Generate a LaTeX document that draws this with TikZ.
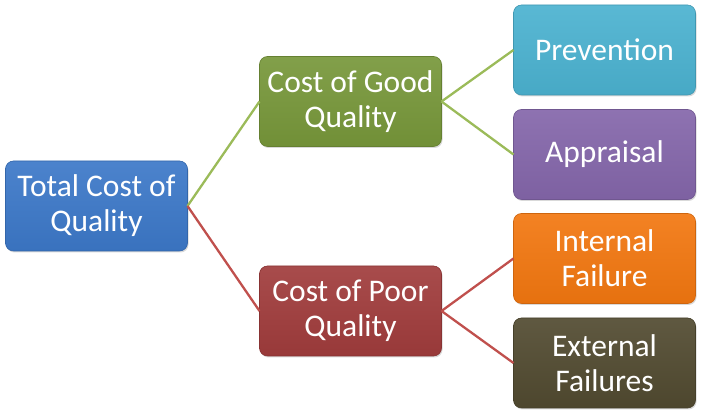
\documentclass[tikz,border=0pt]{standalone}
\usepackage{fontspec}
\setmainfont{Carlito}
\usetikzlibrary{shadows}
\definecolor{totblue}{HTML}{3C78C8}
\definecolor{goodgreen}{HTML}{77973A}
\definecolor{poorred}{HTML}{A03C3C}
\definecolor{prevcyan}{HTML}{4BB2D0}
\definecolor{apprpurple}{HTML}{8466AA}
\definecolor{intorange}{HTML}{F27710}
\definecolor{extolive}{HTML}{514A30}
\definecolor{linegreen}{HTML}{9BBB59}
\definecolor{linered}{HTML}{C0504D}
\tikzset{
  qbox/.style={rectangle, rounded corners=8pt, minimum width=182pt, minimum height=90pt,
    inner sep=0pt, outer sep=0pt, text=white, align=center,
    font=\fontsize{31.5}{35}\selectfont,
    top color=#1!92!white, bottom color=#1!95!black, draw=#1!85!black, line width=0.6pt,
    drop shadow={shadow xshift=1pt, shadow yshift=-1.5pt, opacity=0.3}},
  qline/.style={line width=2.3pt, draw=#1}
}
\begin{document}
\begin{tikzpicture}[x=1pt,y=1pt]
    \useasboundingbox (0,0) rectangle (701,419);
    \node[qbox=totblue] (tot) at (96.5,213) {Total Cost of\\Quality};
    \node[qbox=goodgreen] (good) at (350.5,317.5) {Cost of Good\\Quality};
    \node[qbox=poorred] (poor) at (350.5,108) {Cost of Poor\\Quality};
    \node[qbox=prevcyan] (prev) at (604.5,369) {Prevention};
    \node[qbox=apprpurple] (appr) at (604.5,264.5) {Appraisal};
    \node[qbox=intorange] (int) at (604.5,160.5) {Internal\\Failure};
    \node[qbox=extolive] (ext) at (604.5,56) {External\\Failures};
    \draw[qline=linegreen] (tot.east) -- (good.west);
    \draw[qline=linered] (tot.east) -- (poor.west);
    \draw[qline=linegreen] (good.east) edge (prev.west) edge (appr.west);
    \draw[qline=linered] (poor.east) edge (int.west) edge (ext.west);
\end{tikzpicture}
\end{document}
